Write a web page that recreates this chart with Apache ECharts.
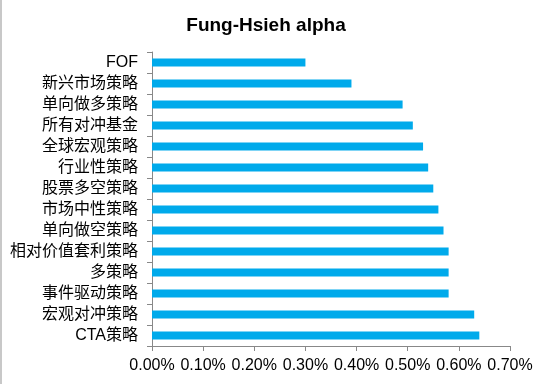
<!DOCTYPE html>
<html>
<head>
<meta charset="utf-8">
<script src="https://cdn.jsdelivr.net/npm/echarts@6/dist/echarts.min.js"></script>
<style>html,body{margin:0;padding:0;background:#fff}#c{width:550px;height:384px}</style>
</head>
<body>
<div id="c"></div>
<script>
var categories = ['FOF','新兴市场策略','单向做多策略','所有对冲基金','全球宏观策略','行业性策略','股票多空策略','市场中性策略','单向做空策略','相对价值套利策略','多策略','事件驱动策略','宏观对冲策略','CTA策略'];
var alphaValues = [0.30,0.39,0.49,0.51,0.53,0.54,0.55,0.56,0.57,0.58,0.58,0.58,0.63,0.64];
var xTicks = [0,0.1,0.2,0.3,0.4,0.5,0.6,0.7];

var chart = echarts.init(document.getElementById('c'));
chart.setOption({
  animation:false,
  backgroundColor:'#fff',
  title:{text:'Fung-Hsieh alpha',left:261,top:11,textAlign:'center',
    textStyle:{fontFamily:'Liberation Sans, Arial',fontSize:19,fontWeight:'bold',color:'#000'}},
  grid:{left:152,right:40,top:52,bottom:38,containLabel:false},
  xAxis:{type:'value',min:0,max:0.7,interval:0.1,
    axisLine:{show:true,lineStyle:{color:'#888'}},
    axisTick:{show:true,length:5,lineStyle:{color:'#888'}},
    splitLine:{show:false},
    axisLabel:{margin:12,color:'#000',fontSize:16,fontFamily:'Liberation Sans, Arial',
      formatter:function(v){return v.toFixed(2)+'%';}}},
  yAxis:{type:'category',data:categories,inverse:true,
    axisLine:{show:true,lineStyle:{color:'#888'}},
    axisTick:{show:true,length:5,lineStyle:{color:'#888'}},
    axisLabel:{margin:14,color:'#000',fontSize:16,fontFamily:'Liberation Sans, Noto Sans CJK SC, Arial'}},
  series:[{type:'bar',data:alphaValues,barWidth:8,itemStyle:{color:'#00AAEB'}}],
  graphic:[{type:'line',shape:{x1:1,y1:0,x2:1,y2:384},style:{stroke:'#c8c8c8',lineWidth:2}}]
});
</script>
</body>
</html>
